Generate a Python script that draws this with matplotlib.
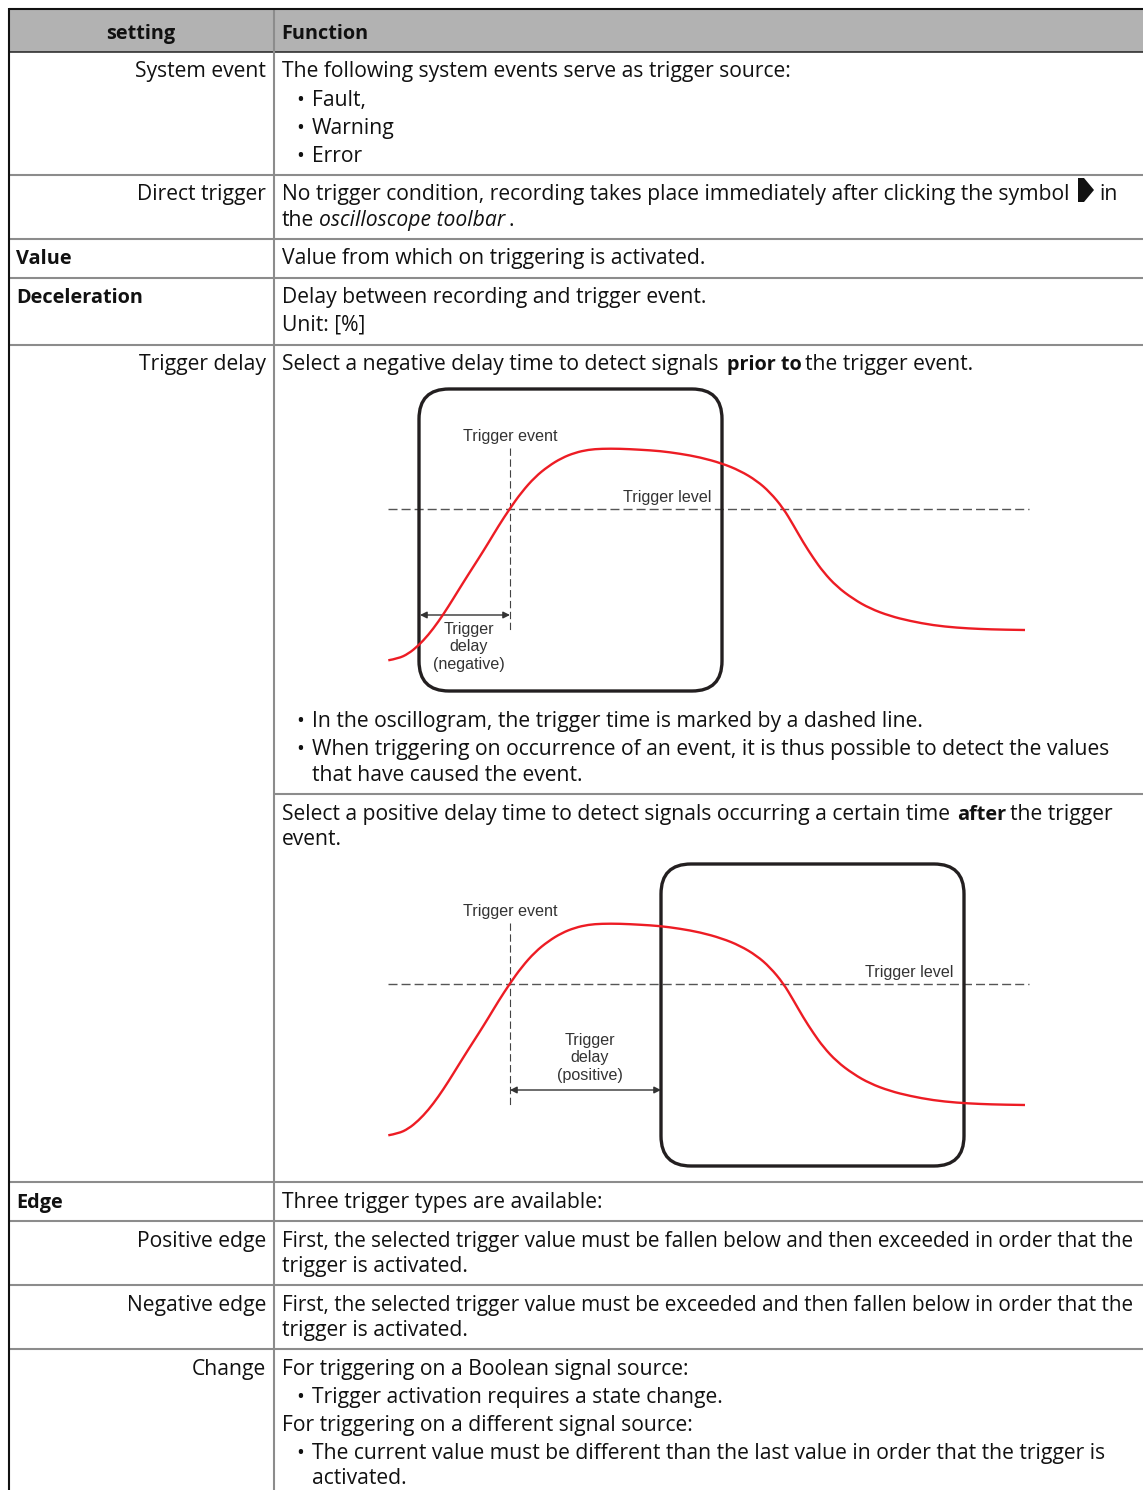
import matplotlib
matplotlib.use("Agg")
import matplotlib.pyplot as plt
from matplotlib.patches import FancyBboxPatch, Polygon, Rectangle, PathPatch
from matplotlib.path import Path

BODY = "Open Sans"
FS = 15.2
FS_BOLD = 14.3
FS_TIGHT = 14.85
DIAG = "Liberation Sans"
DFS = 11.6

# Signal curve (diagram units: x right, y down)
curve_t = [8.3, 18.3, 28.3, 38.3, 48.3, 58.3, 68.3, 78.3, 88.3, 98.3, 108.3, 118.3, 130, 141.7,
           155, 168.3, 181.7, 195, 208.3, 221.7, 240, 260, 280, 300, 320, 341.7, 360, 376.7,
           390, 403.3, 413.3, 423.3, 433.3, 443.3, 456.7, 473.3, 490, 510, 530, 553.3, 576.7,
           600, 623.3, 645]
curve_v = [280.3, 278.5, 273.8, 265.7, 255, 241.8, 226.7, 210.5, 194.5, 179, 163, 146.3, 128.3, 112,
           97, 86.2, 78, 72.7, 69.7, 68.7, 68.7, 69.7, 71, 73.7, 77.3, 83.3, 90.7, 100.7,
           112.3, 128.3, 145, 162.5, 178, 192, 206.5, 219, 228.5, 236, 241, 245.3, 247.7,
           249, 249.7, 250]

# Table structure
header_labels = ["setting", "Function"]
row_lines = [174.5, 238.5, 277.5, 344.5, 1181.5, 1220.5, 1284.5, 1348.5]

left_right = [("System event", 77), ("Direct trigger", 200), ("Trigger delay", 370),
              ("Positive edge", 1247), ("Negative edge", 1311), ("Change", 1375)]
left_bold = [("Value", 264), ("Deceleration", 303), ("Edge", 1208)]

right_lines = [
    (282, 77, "The following system events serve as trigger source:"),
    (296.5, 106, "•"), (312, 106, "Fault,"),
    (296.5, 134, "•"), (312, 134, "Warning"),
    (296.5, 162, "•"), (312, 162, "Error"),
    (282, 200, "No trigger condition, recording takes place immediately after clicking the symbol"),
    (1099, 200, "in"),
    (282, 226, "the"),
    (508, 226, "."),
    (282, 264, "Value from which on triggering is activated."),
    (282, 303, "Delay between recording and trigger event."),
    (282, 331, "Unit: [%]"),
    (282, 370, "Select a negative delay time to detect signals"),
    (805, 370, "the trigger event."),
    (296.5, 727, "•"), (312, 727, "In the oscillogram, the trigger time is marked by a dashed line."),
    (296.5, 755, "•"), (312, 755, "When triggering on occurrence of an event, it is thus possible to detect the values"),
    (312, 781, "that have caused the event."),
    (282, 820, "Select a positive delay time to detect signals occurring a certain time"),
    (1010, 820, "the trigger"),
    (282, 845, "event."),
    (282, 1208, "Three trigger types are available:"),
    (282, 1272, "trigger is activated."),
    (282, 1336, "trigger is activated."),
    (282, 1375, "For triggering on a Boolean signal source:"),
    (296.5, 1403, "•"), (312, 1403, "Trigger activation requires a state change."),
    (282, 1431, "For triggering on a different signal source:"),
    (296.5, 1459, "•"), (312, 1459, "The current value must be different than the last value in order that the trigger is"),
    (312, 1484, "activated."),
]
tight_lines = [
    (282, 1247, "First, the selected trigger value must be fallen below and then exceeded in order that the"),
    (282, 1311, "First, the selected trigger value must be exceeded and then fallen below in order that the"),
]
right_bold = [(727, 370, "prior to"), (957, 820, "after")]
right_italic = [(319, 226, "oscilloscope toolbar")]

W, H = 1143, 1490
fig = plt.figure(figsize=(W / 100, H / 100), dpi=100, facecolor="white")
ax = fig.add_axes([0, 0, 1, 1])
ax.set_xlim(0, W)
ax.set_ylim(H, 0)
ax.axis("off")

GRAY = "#8c8c8c"
INK = "#111111"
ax.add_patch(Rectangle((9, 9), W - 9, 43, fc="#b2b2b2", ec="none", zorder=0))
for y in row_lines:
    ax.plot([9, W], [y, y], color=GRAY, lw=1.5, solid_capstyle="butt")
ax.plot([274, W], [793.5, 793.5], color=GRAY, lw=1.5, solid_capstyle="butt")
ax.plot([9, W], [52, 52], color="#222222", lw=1.1, solid_capstyle="butt")
ax.plot([274, 274], [9, H], color=GRAY, lw=1.5, solid_capstyle="butt")
ax.plot([9, W], [8.5, 8.5], color=INK, lw=1.5, solid_capstyle="butt")
ax.plot([9, 9], [8, H], color=INK, lw=1.5, solid_capstyle="butt")

ax.text(141, 39, header_labels[0], ha="center", va="baseline", family=BODY, fontsize=FS_BOLD, weight="bold", color=INK)
ax.text(281, 39, header_labels[1], va="baseline", family=BODY, fontsize=FS_BOLD, weight="bold", color=INK)
for s, y in left_right:
    ax.text(266, y, s, ha="right", va="baseline", family=BODY, fontsize=FS, color=INK)
for s, y in left_bold:
    ax.text(16, y, s, va="baseline", family=BODY, fontsize=FS_BOLD, weight="bold", color=INK)
for x, y, s in right_lines:
    ax.text(x, y, s, va="baseline", family=BODY, fontsize=FS, color=INK)
for x, y, s in tight_lines:
    ax.text(x, y, s, va="baseline", family=BODY, fontsize=FS_TIGHT, color=INK)
for x, y, s in right_bold:
    ax.text(x, y, s, va="baseline", family=BODY, fontsize=FS_BOLD, weight="bold", color=INK)
for x, y, s in right_italic:
    ax.text(x, y, s, va="baseline", family=BODY, fontsize=FS, style="italic", color=INK)

# toolbar symbol
ax.add_patch(Polygon([(1078, 178), (1084, 178), (1094, 190), (1084, 202), (1078, 202)],
                     closed=True, fc=INK, ec="none"))


def smooth_path(xs, ys):
    pts = list(zip(xs, ys))
    verts = [pts[0]]
    codes = [Path.MOVETO]
    for i in range(1, len(pts) - 1):
        nxt = pts[i + 1]
        mid = ((pts[i][0] + nxt[0]) / 2, (pts[i][1] + nxt[1]) / 2)
        if i == len(pts) - 2:
            mid = nxt
        verts += [pts[i], mid]
        codes += [Path.CURVE3, Path.CURVE3]
    return Path(verts, codes)


def diagram(top, box_x, level_x, delay_x, delay_lines, arrow):
    d = fig.add_axes([380 / W, 1 - (top + 320) / H, 660 / W, 320 / H])
    d.set_xlim(0, 660)
    d.set_ylim(320, 0)
    d.axis("off")
    d.patch.set_alpha(0)
    d.add_patch(FancyBboxPatch((box_x + 30, 39), 243, 242, boxstyle="round,pad=30,rounding_size=30",
                               fc="none", ec="#231f20", lw=2.4, zorder=2))
    d.plot([8, 649], [129, 129], color="#555555", lw=1.0, dashes=(6.5, 2.9), zorder=1)
    d.plot([130, 130], [68, 250], color="#444444", lw=0.8, dashes=(6.6, 3.2), zorder=1)
    d.add_patch(PathPatch(smooth_path(curve_t, curve_v), fc="none", ec="#ed1c24", lw=1.7, zorder=3))
    d.annotate("", xy=(arrow[0], 235), xytext=(arrow[1], 235),
               arrowprops=dict(arrowstyle="<|-|>", color="#333333", lw=1.0, mutation_scale=10,
                               shrinkA=0, shrinkB=0), zorder=2.5)
    d.text(130, 61, "Trigger event", ha="center", va="baseline", family=DIAG, fontsize=DFS, color="#333333")
    d.text(level_x, 122, "Trigger level", ha="center", va="baseline", family=DIAG, fontsize=DFS, color="#333333")
    for s, y in delay_lines:
        d.text(delay_x, y, s, ha="center", va="baseline", family=DIAG, fontsize=DFS, color="#333333")


diagram(380, 39, 287, 89, [("Trigger", 254), ("delay", 271), ("(negative)", 289)], (40, 130))
diagram(855, 281, 529, 210, [("Trigger", 190), ("delay", 207), ("(positive)", 225)], (130, 281))

fig.savefig("out.png", dpi=100, facecolor="white")
